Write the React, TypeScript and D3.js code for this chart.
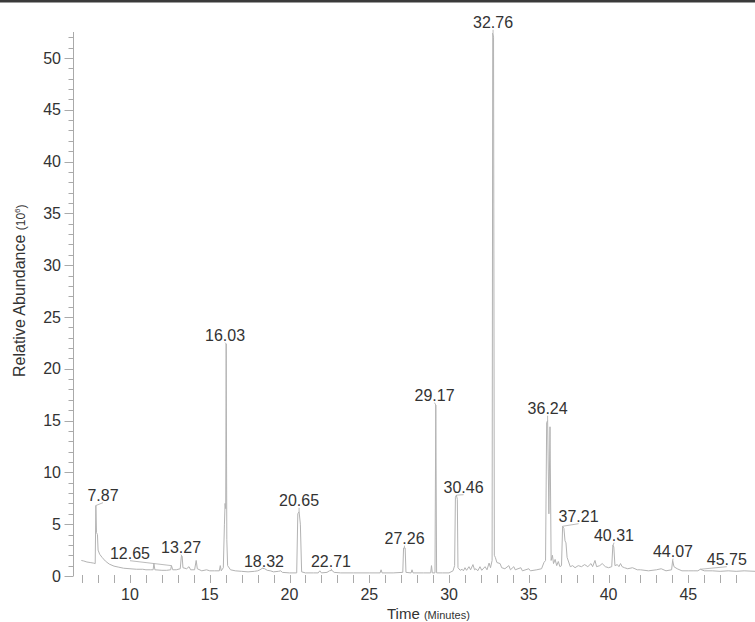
import React from "react";
import * as d3 from "d3";

const TRACE: [number, number][] = [
  [6.95,1.5],[7.1,1.45],[7.3,1.35],[7.5,1.3],[7.7,1.25],[7.82,1.2],[7.86,6.8],[7.9,4.2],[7.96,4.0],[8.0,2.5],[8.1,2.1],[8.25,1.8],[8.45,1.45],[8.7,1.15],[9.0,0.95],[9.3,0.85],[9.6,0.75],[10.0,0.7],[10.4,0.65],[10.8,0.65],[11.0,0.6],[11.3,0.6],[11.45,0.6],[11.5,1.2],[11.56,0.6],[12.0,0.55],[12.3,0.55],[12.55,0.6],[12.6,1.0],[12.68,0.6],[12.9,0.6],[13.15,0.7],[13.22,1.9],[13.27,1.9],[13.32,0.8],[13.55,0.7],[13.7,0.9],[13.8,0.6],[14.05,0.6],[14.15,1.5],[14.22,0.7],[14.5,0.5],[14.8,0.6],[15.0,0.5],[15.3,0.5],[15.6,0.5],[15.66,1.0],[15.72,0.5],[15.85,0.8],[15.92,5.0],[15.96,7.0],[16.0,6.5],[16.03,22.4],[16.07,3.5],[16.12,1.0],[16.3,0.6],[16.6,0.5],[17.0,0.45],[17.4,0.4],[17.8,0.45],[18.0,0.5],[18.15,0.6],[18.3,0.75],[18.45,0.7],[18.6,0.55],[18.8,0.5],[19.0,0.4],[19.3,0.45],[19.45,0.5],[19.55,0.35],[20.0,0.3],[20.45,0.3],[20.52,6.0],[20.6,6.2],[20.68,5.0],[20.76,0.4],[21.0,0.3],[21.5,0.3],[21.8,0.3],[21.9,0.5],[22.0,0.3],[22.35,0.35],[22.5,0.5],[22.65,0.55],[22.8,0.35],[23.2,0.3],[24.0,0.3],[25.0,0.3],[25.68,0.3],[25.74,0.6],[25.8,0.3],[26.5,0.3],[27.1,0.35],[27.15,2.7],[27.25,2.7],[27.3,0.35],[27.62,0.3],[27.68,0.6],[27.74,0.3],[28.4,0.3],[28.85,0.3],[28.9,1.0],[28.95,0.3],[29.12,0.3],[29.17,16.5],[29.22,0.3],[29.6,0.3],[30.0,0.3],[30.25,0.5],[30.35,1.0],[30.4,7.6],[30.46,7.8],[30.52,7.4],[30.56,0.8],[30.7,0.55],[30.82,0.65],[30.9,0.5],[31.0,0.8],[31.1,0.55],[31.25,0.9],[31.35,0.6],[31.5,1.1],[31.6,0.6],[31.69,0.7],[31.8,0.5],[31.94,0.9],[32.05,0.55],[32.26,0.9],[32.38,0.6],[32.51,1.25],[32.6,0.8],[32.7,1.5],[32.74,52.4],[32.79,52.0],[32.84,2.0],[32.9,1.8],[33.0,1.3],[33.2,1.2],[33.3,0.8],[33.5,0.7],[33.75,1.0],[33.85,0.6],[34.06,0.9],[34.15,0.6],[34.5,0.8],[34.6,0.5],[35.0,0.7],[35.1,0.5],[35.5,0.6],[35.8,0.7],[35.95,1.3],[36.05,1.5],[36.12,14.8],[36.18,15.0],[36.26,6.0],[36.33,14.4],[36.4,1.5],[36.48,2.0],[36.55,1.2],[36.65,1.6],[36.75,1.0],[36.85,1.4],[36.95,0.9],[37.05,1.0],[37.12,4.8],[37.2,4.6],[37.27,3.4],[37.33,3.2],[37.4,1.8],[37.6,0.9],[37.75,1.0],[37.9,0.8],[38.1,1.0],[38.3,0.9],[38.5,1.1],[38.7,0.9],[38.9,1.2],[39.0,0.9],[39.15,1.5],[39.25,0.9],[39.45,1.0],[39.6,1.2],[39.8,0.9],[40.0,0.8],[40.2,0.9],[40.27,3.0],[40.33,2.8],[40.4,1.0],[40.55,1.1],[40.65,0.9],[40.75,1.2],[40.85,0.9],[41.0,0.8],[41.2,0.7],[41.5,0.8],[41.8,0.6],[42.0,0.6],[42.5,0.5],[43.0,0.6],[43.3,0.7],[43.6,0.5],[43.95,0.6],[44.02,1.5],[44.1,0.9],[44.3,0.7],[44.6,0.5],[45.0,0.5],[45.3,0.5],[45.6,0.5],[45.75,0.65],[46.0,0.5],[46.5,0.5],[47.0,0.45],[47.5,0.5],[48.0,0.45],[48.5,0.5],[49.2,0.45]
];

// peak annotations: label text, apex time, apex value, label centre time, label baseline value
const PEAK_LABELS = ["7.87","12.65","13.27","16.03","18.32","20.65","22.71","27.26","29.17","30.46","32.76","36.24","37.21","40.31","44.07","45.75"];
const PEAK_T = [7.86,12.6,13.25,16.03,18.3,20.6,22.65,27.2,29.17,30.46,32.76,36.18,37.12,40.3,44.02,45.75];
const PEAK_V = [6.8,1.0,1.9,22.4,0.75,6.2,0.55,2.7,16.5,7.8,52.4,15.0,4.8,3.0,1.5,0.65];
const LABEL_T = [8.31,10.0,13.2,15.96,18.4,20.6,22.6,27.21,29.09,30.91,32.76,36.18,38.12,40.34,44.04,47.41];
const LABEL_V = [7.27,1.67,2.25,22.71,0.9,6.78,0.9,3.12,16.92,8.04,52.91,15.66,5.24,3.41,1.86,1.09];

const X_TICKS_MAJOR = [10, 15, 20, 25, 30, 35, 40, 45];
const Y_TICKS_MAJOR = [0, 5, 10, 15, 20, 25, 30, 35, 40, 45, 50];

const FONT = "'Liberation Sans', Arial, Helvetica, sans-serif";

export default function App() {
  const W = 755, H = 622;
  const x = d3.scaleLinear().domain([6.49, 49.18]).range([74, 755]);
  const y = d3.scaleLinear().domain([0, 52.5]).range([576, 32]);
  const line = d3.line<[number, number]>().x(d => x(d[0])).y(d => y(d[1]));
  const xMinor = d3.range(7, 49, 1);
  const yMinor = d3.range(0, 53, 1);
  const axisX = 73.5;

  return (
    <svg width={W} height={H} style={{ position: "absolute", left: 0, top: 0, background: "#fff" }} fontFamily={FONT}>
      <rect x={0} y={0} width={W} height={2.5} fill="#3a3a3a" />
      {/* y axis */}
      <line x1={axisX} x2={axisX} y1={y(52.5)} y2={y(0)} stroke="#aaa" strokeWidth={1} />
      {yMinor.map(v => {
        const major = v % 5 === 0;
        return <line key={"ym" + v} x1={major ? axisX - 9 : axisX - 5} x2={axisX} y1={Math.round(y(v)) + 0.5} y2={Math.round(y(v)) + 0.5} stroke="#aaa" strokeWidth={1} />;
      })}
      {Y_TICKS_MAJOR.map(v => (
        <text key={"yl" + v} x={61} y={y(v) + 5.7} textAnchor="end" fontSize={16} fill="#333">{v}</text>
      ))}
      {/* x axis ticks */}
      {xMinor.map(t => (
        <line key={"xm" + t} x1={Math.round(x(t)) + 0.5} x2={Math.round(x(t)) + 0.5} y1={575} y2={583} stroke="#aaa" strokeWidth={1} />
      ))}
      {X_TICKS_MAJOR.map(t => (
        <text key={"xl" + t} x={x(t)} y={600} textAnchor="middle" fontSize={16} fill="#333">{t}</text>
      ))}
      {/* trace */}
      <path d={line(TRACE) || ""} fill="none" stroke="#b3b3b3" strokeWidth={1} strokeLinejoin="round" />
      {/* leader lines and labels */}
      {PEAK_LABELS.map((s, i) => (
        <g key={"pl" + s}>
          <line x1={x(PEAK_T[i])} y1={y(PEAK_V[i])} x2={x(LABEL_T[i])} y2={y(LABEL_V[i]) + 2} stroke="#aaa" strokeWidth={0.8} />
          <text x={x(LABEL_T[i])} y={y(LABEL_V[i])} textAnchor="middle" fontSize={16} fill="#333">{s}</text>
        </g>
      ))}
      {/* axis titles */}
      <text transform={`translate(25,377) rotate(-90)`} fontSize={16} fill="#333">
        Relative Abundance <tspan fontSize={12}>(10</tspan><tspan fontSize={8} dy={-5}>6</tspan><tspan fontSize={12} dy={5}>)</tspan>
      </text>
      <text x={387} y={619} fontSize={15} fill="#333">
        Time <tspan fontSize={11}>(Minutes)</tspan>
      </text>
    </svg>
  );
}
